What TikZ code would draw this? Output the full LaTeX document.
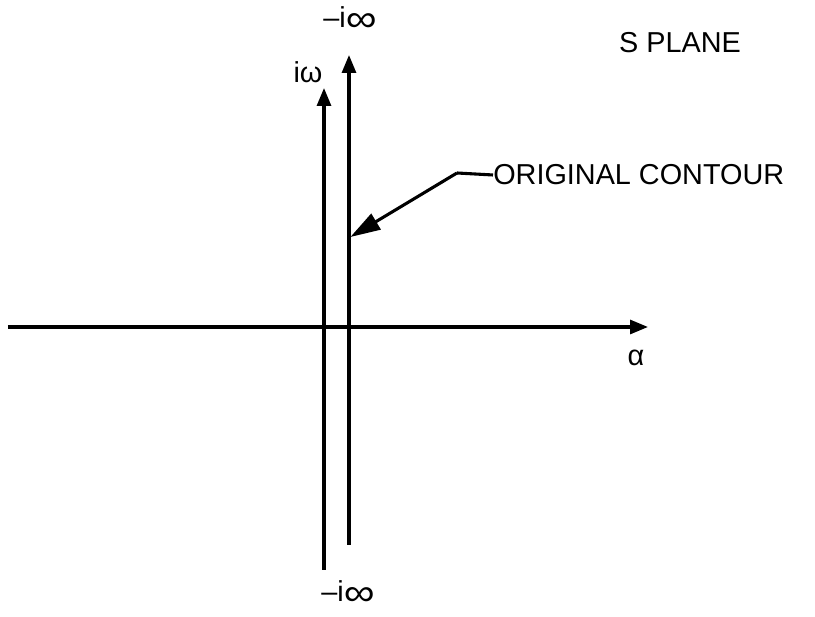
\documentclass[tikz,border=0pt]{standalone}
\usepackage{fontspec}
\setmainfont{Liberation Sans}
\usetikzlibrary{arrows.meta}
\newcommand{\bigInf}{\raisebox{-0.25ex}{\scalebox{1.5}[1.3]{∞}}}

\begin{document}
\begin{tikzpicture}[
    axis/.style={line width=2.2pt, -{Triangle[length=0.45cm, width=0.35cm]}},
    lbl/.style={font=\fontsize{20.5}{22}\selectfont, inner sep=0pt}
  ]
        \useasboundingbox (-8.1,-7.25) rectangle (12.275,8.175);

        % real axis
        \coordinate (L) at (-7.9,0);
        \coordinate (R) at (8.1,0);
        % imaginary axis
        \coordinate (Wb) at (0,-6.075);
        \coordinate (Wt) at (0,5.975);
        % original contour, just right of the axis
        \coordinate (Cb) at (0.625,-5.45);
        \coordinate (Ct) at (0.625,6.8);

        \draw[axis] (L) -- (R);
        \draw[axis] (Wb) -- (Wt);
        \draw[axis] (Cb) -- (Ct);

        \node[lbl] (ctop) at (0.65,7.7) {–i\bigInf};
        \node[lbl] (cbot) at (0.6,-6.65) {–i\bigInf};
        \node[lbl] (w) at (-0.4,6.375) {iω};
        \node[lbl] (alpha) at (7.8,-0.775) {α};
        \node[lbl] (splane) at (8.9,7.1) {S PLANE};
        \node[lbl, anchor=west] (orig) at (4.225,3.8) {ORIGINAL CONTOUR};

        % leader to the contour
        \coordinate (K) at (3.325,3.85);
        \coordinate (T) at (0.66,2.25);
        \draw[line width=2.2pt] (orig.west) -- (K);
        \draw[line width=2.2pt, -{Triangle[length=0.75cm, width=0.45cm]}] (K) -- (T);

    \end{tikzpicture}
\end{document}
